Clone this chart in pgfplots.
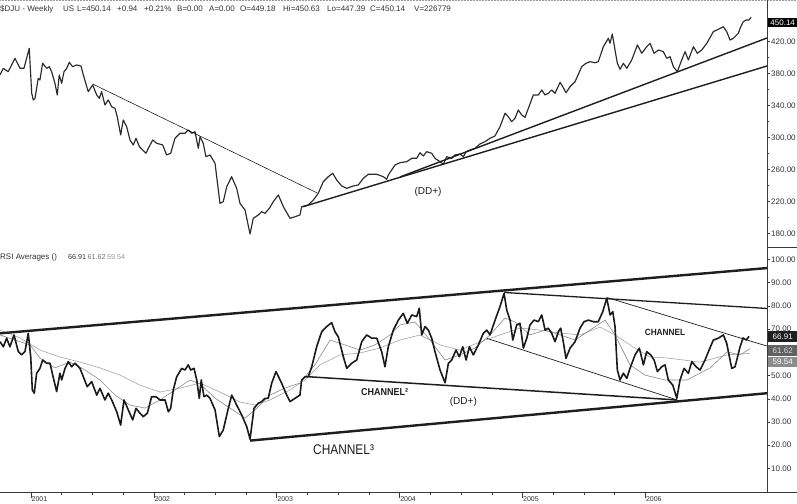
\documentclass[border=0pt]{standalone}
\usepackage{fontspec}
\setmainfont{Liberation Sans}
\usepackage{graphicx}
\usepackage{pgfplots}
\pgfplotsset{compat=1.18}
\definecolor{ink}{HTML}{1E1E1E}
\definecolor{labcol}{HTML}{333333}
\definecolor{axiscol}{HTML}{3A3A3A}
\definecolor{priceline}{HTML}{2A2A2A}
\definecolor{rsiline}{HTML}{1A1A1A}
\definecolor{maone}{HTML}{8A8A8A}
\definecolor{matwo}{HTML}{A5A5A5}
\newcommand{\lab}{\fontsize{8}{9}\selectfont}
\pgfplotsset{
  panel/.style={
    anchor=south west, scale only axis, width=767pt,
    xmin=2000.748, xmax=2006.99,
    axis line style={draw=none},
    tick align=outside,
    tick style={draw=axiscol, line width=0.5pt},
    /pgf/number format/assume math mode=true,
  },
}
\begin{document}
\begin{tikzpicture}[x=1pt,y=1pt]
\useasboundingbox (0,0) rectangle (797,503);
\fill[white] (0,0) rectangle (797,503);
\draw[black!40, line width=1pt, dash pattern=on 1pt off 0.5pt] (0,502.6) -- (797,502.6);
% ---------------- price panel
\begin{axis}[panel,
  at={(0pt,256pt)}, height=246pt,
  ymin=162.85, ymax=470.35,
  xtick=\empty, ytick pos=right,
  ytick={180,220,...,420}, minor y tick num=1,
  major tick length=3pt, minor tick length=2pt,
  yticklabel style={font=\lab, text=labcol, anchor=west, inner sep=0pt, xshift=1pt,
    /pgf/number format/fixed, /pgf/number format/fixed zerofill, /pgf/number format/precision=2},
]
\addplot[priceline, line width=1.15pt, line join=round] coordinates {
(2000.748,377.9)(2000.775,386.2)(2000.815,382.0)(2000.870,398.7)(2000.911,386.2)(2000.943,386.2)(2000.986,411.2)(2001.006,355.0)(2001.019,346.6)(2001.033,348.7)(2001.059,373.7)(2001.073,371.6)(2001.095,392.5)(2001.128,386.2)(2001.149,388.2)(2001.168,382.0)(2001.195,367.5)(2001.214,352.9)(2001.230,377.9)(2001.250,367.5)(2001.269,382.0)(2001.291,386.2)(2001.312,393.7)(2001.339,388.2)(2001.372,390.4)(2001.407,389.1)(2001.426,377.9)(2001.466,357.0)(2001.502,365.4)(2001.535,352.9)(2001.556,348.7)(2001.575,357.0)(2001.602,340.4)(2001.629,346.6)(2001.657,338.2)(2001.684,336.2)(2001.702,325.7)(2001.730,302.9)(2001.751,321.6)(2001.779,313.2)(2001.806,296.6)(2001.833,290.4)(2001.855,298.7)(2001.882,288.3)(2001.909,284.1)(2001.936,280.0)(2001.955,286.2)(2001.991,296.6)(2002.023,292.5)(2002.072,290.4)(2002.104,277.9)(2002.137,280.0)(2002.172,298.7)(2002.213,305.0)(2002.253,305.0)(2002.280,309.1)(2002.308,305.0)(2002.335,307.0)(2002.362,286.2)(2002.376,300.7)(2002.402,292.5)(2002.424,275.7)(2002.457,277.9)(2002.498,267.5)(2002.538,217.5)(2002.565,219.5)(2002.593,238.2)(2002.633,250.7)(2002.674,236.2)(2002.701,217.5)(2002.742,209.1)(2002.783,179.1)(2002.809,198.7)(2002.850,202.9)(2002.878,207.0)(2002.905,205.0)(2002.940,211.2)(2002.972,219.5)(2003.013,227.9)(2003.054,213.2)(2003.108,198.7)(2003.149,200.7)(2003.189,202.9)(2003.203,213.2)(2003.257,215.4)(2003.298,221.6)(2003.338,230.0)(2003.379,244.5)(2003.420,250.7)(2003.456,255.0)(2003.488,246.6)(2003.529,239.1)(2003.570,236.2)(2003.623,239.1)(2003.664,240.4)(2003.705,248.7)(2003.745,253.7)(2003.814,253.7)(2003.868,250.7)(2003.895,247.5)(2003.908,252.9)(2003.963,265.4)(2004.003,268.2)(2004.058,269.5)(2004.099,273.7)(2004.139,273.7)(2004.166,280.7)(2004.193,276.6)(2004.221,282.0)(2004.261,280.0)(2004.288,273.7)(2004.329,269.5)(2004.356,266.2)(2004.383,275.7)(2004.424,273.7)(2004.451,277.9)(2004.492,279.1)(2004.519,275.7)(2004.541,282.0)(2004.573,284.1)(2004.614,286.2)(2004.654,291.6)(2004.695,294.5)(2004.736,298.7)(2004.776,301.6)(2004.817,313.2)(2004.858,330.0)(2004.885,325.7)(2004.912,319.5)(2004.939,323.7)(2004.966,334.1)(2004.994,327.8)(2005.021,325.0)(2005.048,336.2)(2005.088,352.9)(2005.129,352.9)(2005.157,359.1)(2005.183,352.9)(2005.210,355.0)(2005.238,359.1)(2005.265,355.0)(2005.306,368.7)(2005.328,363.2)(2005.354,355.7)(2005.387,363.2)(2005.428,369.5)(2005.482,388.2)(2005.517,392.5)(2005.550,394.5)(2005.590,393.2)(2005.617,394.5)(2005.658,413.2)(2005.699,423.7)(2005.712,417.5)(2005.731,429.1)(2005.753,409.1)(2005.772,392.5)(2005.794,385.0)(2005.821,392.5)(2005.849,386.2)(2005.889,396.6)(2005.935,415.4)(2005.971,405.0)(2006.011,413.2)(2006.038,417.5)(2006.071,405.0)(2006.106,409.1)(2006.146,407.0)(2006.174,398.7)(2006.201,400.7)(2006.228,388.2)(2006.260,382.0)(2006.296,396.6)(2006.323,407.0)(2006.350,396.6)(2006.391,413.2)(2006.423,405.0)(2006.459,409.1)(2006.500,417.5)(2006.553,432.0)(2006.594,435.0)(2006.635,438.2)(2006.662,432.0)(2006.689,421.6)(2006.716,423.7)(2006.757,430.0)(2006.771,436.2)(2006.795,444.1)(2006.820,446.6)(2006.844,446.6)(2006.860,450.1)
};
% trend lines
\addplot[black, line width=0.5pt] coordinates {(2001.502,366.6)(2003.325,230.7)};
\addplot[ink, line width=1.4pt] coordinates {(2003.214,213.2)(2006.990,389.1)};
\addplot[ink, line width=1.4pt] coordinates {(2004.003,250.4)(2006.990,424.1)};
\node[font=\fontsize{10}{12}\selectfont, text=ink] at (axis cs:2004.231,231.6) {(DD+)};
\coordinate (lab450) at (axis cs:2006.99,443.5);
\end{axis}
% ---------------- RSI panel
\begin{axis}[panel,
  at={(0pt,11pt)}, height=242pt,
  ymin=-0.14, ymax=104.08,
  xtick=\empty, ytick pos=right,
  ytick={10,20,...,100},
  major tick length=3pt,
  yticklabel style={font=\lab, text=labcol, anchor=west, inner sep=0pt, xshift=1pt,
    /pgf/number format/fixed, /pgf/number format/fixed zerofill, /pgf/number format/precision=2},
]
\addplot[matwo, line width=0.6pt] coordinates {
(2000.748,69.6)(2000.911,66.2)(2001.073,61.0)(2001.236,58.0)(2001.399,55.8)(2001.562,53.3)(2001.724,50.2)(2001.887,45.9)(2002.050,42.9)(2002.213,44.6)(2002.376,46.8)(2002.538,42.9)(2002.701,38.6)(2002.823,37.3)(2002.945,39.5)(2003.108,43.8)(2003.230,48.1)(2003.352,54.6)(2003.515,58.9)(2003.678,59.7)(2003.840,61.9)(2004.003,65.3)(2004.166,67.5)(2004.329,63.2)(2004.492,61.0)(2004.654,64.5)(2004.817,67.5)(2004.980,70.5)(2005.143,69.6)(2005.306,68.3)(2005.468,67.5)(2005.631,70.9)(2005.753,67.5)(2005.900,62.3)(2006.038,58.0)(2006.176,57.6)(2006.445,55.8)(2006.665,58.9)(2006.852,59.6)
};
\addplot[maone, line width=0.6pt] coordinates {
(2000.748,67.5)(2000.870,65.3)(2000.992,63.2)(2001.073,57.6)(2001.195,53.3)(2001.317,55.8)(2001.440,52.4)(2001.562,48.1)(2001.684,41.6)(2001.806,37.3)(2001.928,36.0)(2002.050,39.5)(2002.172,43.8)(2002.294,48.1)(2002.376,46.4)(2002.498,40.3)(2002.620,36.0)(2002.742,31.7)(2002.823,35.2)(2002.945,41.6)(2003.067,44.6)(2003.189,46.8)(2003.311,54.6)(2003.434,65.3)(2003.556,63.2)(2003.678,61.0)(2003.800,63.2)(2003.922,67.5)(2004.003,71.8)(2004.125,73.1)(2004.248,65.3)(2004.370,56.7)(2004.492,58.9)(2004.614,61.9)(2004.736,67.5)(2004.858,74.8)(2004.939,73.1)(2005.061,67.5)(2005.184,69.6)(2005.306,67.5)(2005.428,65.3)(2005.550,69.6)(2005.672,73.9)(2005.753,67.5)(2005.875,54.6)(2005.997,50.2)(2006.160,48.1)(2006.339,48.1)(2006.527,53.3)(2006.665,60.2)(2006.771,58.9)(2006.852,61.6)
};
\addplot[rsiline, line width=1.6pt, line join=round] coordinates {
(2000.748,64.6)(2000.775,62.4)(2000.802,66.1)(2000.829,62.4)(2000.862,67.5)(2000.897,60.3)(2000.924,58.9)(2000.951,60.3)(2000.978,68.2)(2000.998,58.1)(2001.011,43.8)(2001.027,42.4)(2001.046,51.0)(2001.073,53.1)(2001.095,56.7)(2001.128,55.3)(2001.155,55.3)(2001.177,50.2)(2001.209,43.1)(2001.236,51.0)(2001.250,48.1)(2001.277,53.1)(2001.304,56.0)(2001.331,53.8)(2001.358,55.3)(2001.399,53.1)(2001.426,49.5)(2001.458,45.2)(2001.494,47.4)(2001.535,41.6)(2001.562,44.5)(2001.602,39.5)(2001.629,42.4)(2001.657,39.5)(2001.698,34.4)(2001.730,28.7)(2001.757,39.5)(2001.792,35.2)(2001.828,30.9)(2001.855,35.9)(2001.887,33.8)(2001.914,32.3)(2001.947,33.8)(2001.982,40.9)(2002.017,40.9)(2002.050,39.5)(2002.091,39.5)(2002.118,34.4)(2002.137,35.9)(2002.158,43.8)(2002.186,49.5)(2002.227,53.1)(2002.253,52.4)(2002.280,54.6)(2002.300,52.4)(2002.327,53.1)(2002.349,48.1)(2002.370,40.2)(2002.386,48.1)(2002.408,40.9)(2002.430,41.6)(2002.457,40.2)(2002.498,35.2)(2002.533,23.7)(2002.565,26.6)(2002.606,35.9)(2002.634,41.6)(2002.674,37.3)(2002.715,33.0)(2002.756,28.0)(2002.783,22.6)(2002.815,35.9)(2002.850,38.1)(2002.878,38.8)(2002.905,40.2)(2002.931,40.2)(2002.959,46.7)(2002.994,51.7)(2003.021,48.8)(2003.040,46.7)(2003.081,41.6)(2003.108,38.8)(2003.149,40.2)(2003.189,41.6)(2003.203,48.1)(2003.230,49.5)(2003.257,49.5)(2003.285,53.8)(2003.325,62.4)(2003.366,68.9)(2003.407,71.1)(2003.447,72.8)(2003.474,68.9)(2003.501,66.7)(2003.542,58.1)(2003.570,53.1)(2003.610,55.3)(2003.651,56.7)(2003.692,64.6)(2003.732,67.5)(2003.773,66.1)(2003.814,66.1)(2003.854,60.3)(2003.881,53.8)(2003.908,62.4)(2003.949,69.6)(2003.990,73.9)(2004.030,76.8)(2004.063,72.5)(2004.099,76.1)(2004.139,75.4)(2004.160,79.0)(2004.180,67.5)(2004.207,71.1)(2004.234,69.6)(2004.261,66.1)(2004.288,60.3)(2004.329,52.4)(2004.370,46.9)(2004.397,55.3)(2004.424,56.7)(2004.459,61.0)(2004.486,58.1)(2004.514,62.4)(2004.541,56.7)(2004.568,62.4)(2004.600,58.9)(2004.641,63.2)(2004.681,68.2)(2004.709,69.6)(2004.736,67.5)(2004.777,73.9)(2004.817,79.7)(2004.850,85.4)(2004.872,78.2)(2004.899,73.9)(2004.921,65.3)(2004.953,71.8)(2004.980,72.5)(2005.007,61.8)(2005.035,66.1)(2005.061,71.8)(2005.094,73.9)(2005.129,73.2)(2005.157,76.1)(2005.184,69.6)(2005.210,70.4)(2005.238,68.2)(2005.265,64.6)(2005.292,68.9)(2005.311,70.4)(2005.332,64.6)(2005.354,57.4)(2005.387,61.8)(2005.428,64.6)(2005.468,70.4)(2005.501,73.2)(2005.536,73.9)(2005.577,73.2)(2005.617,73.2)(2005.653,77.5)(2005.686,83.3)(2005.713,76.1)(2005.735,77.5)(2005.753,71.1)(2005.772,52.4)(2005.794,48.1)(2005.821,51.0)(2005.849,48.8)(2005.875,53.1)(2005.916,58.9)(2005.951,61.8)(2005.984,54.6)(2006.011,60.3)(2006.044,58.9)(2006.071,56.7)(2006.098,51.7)(2006.133,53.8)(2006.160,54.6)(2006.187,48.1)(2006.223,45.9)(2006.256,40.2)(2006.282,48.1)(2006.315,53.1)(2006.350,51.0)(2006.378,56.0)(2006.413,53.8)(2006.445,52.4)(2006.486,56.7)(2006.513,60.3)(2006.553,65.3)(2006.594,66.1)(2006.635,67.5)(2006.662,63.9)(2006.703,53.1)(2006.730,53.8)(2006.771,62.4)(2006.795,66.2)(2006.820,65.3)(2006.844,66.9)
};
% channel lines
\addplot[ink, line width=2.4pt] coordinates {(2000.748,68.2)(2006.990,96.3)};
\addplot[ink, line width=2.4pt] coordinates {(2002.783,22.0)(2006.990,42.4)};
\addplot[ink, line width=1.5pt] coordinates {(2003.257,49.5)(2006.258,39.5)};
\addplot[ink, line width=1.3pt] coordinates {(2004.850,85.8)(2006.990,78.9)};
\addplot[ink, line width=0.7pt] coordinates {(2005.688,83.6)(2006.990,62.7)};
\addplot[ink, line width=0.7pt] coordinates {(2004.712,66.0)(2006.258,39.5)};
\node[font=\bfseries\fontsize{9}{11}\selectfont, text=ink] at (axis cs:2006.160,68.47) {\scalebox{0.92}[1]{CHANNEL}};
\node[font=\bfseries\fontsize{10}{12}\selectfont, text=ink, anchor=west, inner sep=0pt] at (axis cs:2003.686,42.9) {\scalebox{0.9}[1]{CHANNEL²}};
\node[font=\fontsize{10}{12}\selectfont, text=ink] at (axis cs:2004.519,38.75) {(DD+)};
\node[font=\fontsize{14}{16}\selectfont, text=ink, anchor=west, inner sep=0pt] at (axis cs:2003.295,18.25) {\scalebox{0.85}[1]{CHANNEL³}};
\coordinate (lab6691) at (axis cs:2006.99,66.91);
\coordinate (lab6162) at (axis cs:2006.99,60.6);
\coordinate (lab5954) at (axis cs:2006.99,55.85);
\end{axis}
% ---------------- time axis
\begin{axis}[panel,
  at={(0pt,11pt)}, height=242pt,
  ymin=0, ymax=1, ytick=\empty, xtick pos=bottom,
  xtick={2001,2002,2003,2004,2005,2006},
  xticklabels={2001,2002,2003,2004,2005,2006},
  minor x tick num=3,
  major tick length=6pt, minor tick length=2.5pt,
  xticklabel style={font=\fontsize{7}{8}\selectfont, text=labcol, anchor=north west, inner sep=0pt, xshift=0.5pt, yshift=1.5pt},
]
\end{axis}
% frame lines
\draw[axiscol, line width=0.6pt] (767,503) -- (767,11);
\draw[axiscol, line width=0.6pt] (767,256) -- (797,256);
\draw[axiscol, line width=0.6pt] (0,11) -- (797,11);
% last-value boxes
\node[anchor=west, fill=black, text=white, font=\lab, inner sep=0pt, minimum width=30pt, minimum height=9.5pt] at ([xshift=0.5pt]lab450) {450.14};
\node[anchor=west, fill=black!45, text=white, font=\lab, inner sep=0pt, minimum width=30pt, minimum height=10pt] at ([xshift=0.5pt]lab5954) {59.54};
\node[anchor=west, fill=black!62, text=white!85!black, font=\lab, inner sep=0pt, minimum width=30pt, minimum height=11pt] at ([xshift=0.5pt]lab6162) {61.62};
\node[anchor=west, fill=black!88, text=white, font=\lab, inner sep=0pt, minimum width=30pt, minimum height=11pt] at ([xshift=0.5pt]lab6691) {66.91};
% headers
\begin{scope}[every node/.style={anchor=base west, inner sep=0pt, font=\lab, text=labcol}]
\node at (0,491) {\$DJU - Weekly};
\node at (63,491) {US};
\node at (77,491) {L=450.14};
\node at (117,491) {+0.94};
\node at (144,491) {+0.21\%};
\node at (177,491) {B=0.00};
\node at (209,491) {A=0.00};
\node at (240,491) {O=449.18};
\node at (283,491) {Hi=450.63};
\node at (327,491) {Lo=447.39};
\node at (370,491) {C=450.14};
\node at (414,491) {V=226779};
\node at (0,243.5) {RSI Averages ()};
\node[font=\fontsize{7.2}{8}\selectfont] at (68,243.5) {66.91};
\node[font=\fontsize{7.2}{8}\selectfont, text=black!55] at (87.5,243.5) {61.62};
\node[font=\fontsize{7.2}{8}\selectfont, text=black!40] at (107,243.5) {59.54};
\end{scope}
\end{tikzpicture}
\end{document}
